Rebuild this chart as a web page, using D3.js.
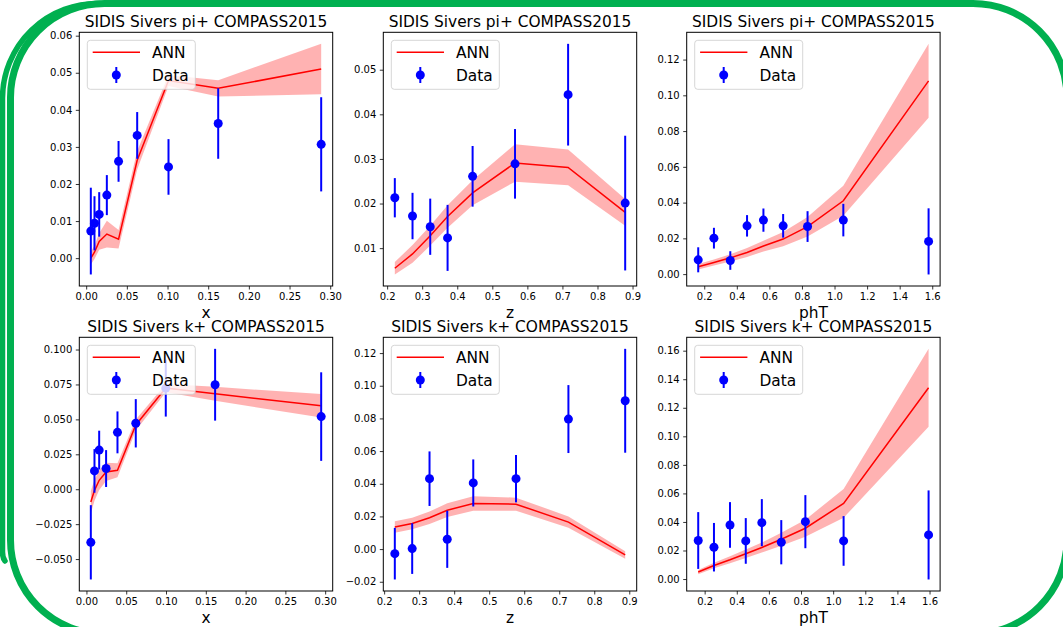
<!DOCTYPE html>
<html>
<head>
<meta charset="utf-8">
<script src="https://cdn.jsdelivr.net/npm/d3@7"></script>
<style>
  body { margin: 0; background: #fff; }
  svg { display: block; font-family: "DejaVu Sans", sans-serif; }
</style>
</head>
<body>
<svg id="chart" width="1063" height="627"></svg>
<script>
// pi+ vs x
var piX     = [0.0057, 0.0102, 0.0160, 0.0254, 0.0398, 0.0627, 0.1012, 0.1623, 0.2889];
var piXVal  = [0.0073, 0.0094, 0.0118, 0.0170, 0.0261, 0.0331, 0.0246, 0.0363, 0.0307];
var piXErr  = [0.0117, 0.0073, 0.0060, 0.0054, 0.0055, 0.0063, 0.0075, 0.0095, 0.0127];
var piXAnn  = [0.0000, 0.0016, 0.0045, 0.0065, 0.0051, 0.0264, 0.0479, 0.0458, 0.0510];
var piXBand = [0.0017, 0.0018, 0.0022, 0.0036, 0.0025, 0.0025, 0.0015, 0.0022, 0.0068];

// pi+ vs z
var piZ     = [0.2219, 0.2724, 0.3229, 0.3724, 0.4438, 0.5648, 0.7162, 0.8790];
var piZVal  = [0.0213, 0.0172, 0.0148, 0.0123, 0.0261, 0.0289, 0.0444, 0.0201];
var piZErr  = [0.0044, 0.0052, 0.0063, 0.0074, 0.0068, 0.0078, 0.0114, 0.0151];
var piZAnn  = [0.0055, 0.0087, 0.0128, 0.0171, 0.0224, 0.0291, 0.0281, 0.0180];
var piZBand = [0.0014, 0.0020, 0.0022, 0.0025, 0.0028, 0.0042, 0.0040, 0.0030];

// pi+ vs phT
var piP     = [0.163, 0.2595, 0.360, 0.4628, 0.5634, 0.6845, 0.8344, 1.054, 1.5775];
var piPVal  = [0.0080, 0.0201, 0.0076, 0.0270, 0.0302, 0.0270, 0.0266, 0.0302, 0.0183];
var piPErr  = [0.0070, 0.0058, 0.0052, 0.0060, 0.0065, 0.0066, 0.0086, 0.0091, 0.0185];
var piPAnn  = [0.0041, 0.0065, 0.0091, 0.0121, 0.0157, 0.0196, 0.0265, 0.0410, 0.1081];
var piPBand = [0.0015, 0.0017, 0.0020, 0.0025, 0.0030, 0.0040, 0.0055, 0.0084, 0.0207];

// k+ vs x
var kX     = [0.0055, 0.0101, 0.0160, 0.0247, 0.0390, 0.0620, 0.0997, 0.1617, 0.2950];
var kXVal  = [-0.0380, 0.0131, 0.0280, 0.0148, 0.0407, 0.0472, 0.0724, 0.0748, 0.0520];
var kXErr  = [0.0266, 0.0156, 0.0139, 0.0132, 0.0150, 0.0173, 0.0204, 0.0257, 0.0317];
var kXAnn  = [-0.0092, -0.0008, 0.0064, 0.0124, 0.0136, 0.0460, 0.0724, 0.0683, 0.0597];
var kXBand = [0.0080, 0.0075, 0.0070, 0.0065, 0.0050, 0.0040, 0.0030, 0.0050, 0.0084];

// k+ vs z
var kZ     = [0.2305, 0.2801, 0.3296, 0.3802, 0.4545, 0.5766, 0.7262, 0.8883];
var kZVal  = [-0.0028, 0.0003, 0.0431, 0.0060, 0.0405, 0.0431, 0.0796, 0.0908];
var kZErr  = [0.0158, 0.0155, 0.0167, 0.0175, 0.0144, 0.0145, 0.0208, 0.0318];
var kZAnn  = [0.0135, 0.0157, 0.0192, 0.0238, 0.0279, 0.0275, 0.0165, -0.0036];
var kZBand = [0.0035, 0.0035, 0.0038, 0.0042, 0.0045, 0.0040, 0.0035, 0.0023];

// k+ vs phT
var kP     = [0.160, 0.258, 0.358, 0.456, 0.556, 0.677, 0.827, 1.065, 1.594];
var kPVal  = [0.0270, 0.0223, 0.0379, 0.0267, 0.0395, 0.0258, 0.0402, 0.0267, 0.0309];
var kPErr  = [0.0199, 0.0170, 0.0160, 0.0160, 0.0165, 0.0155, 0.0186, 0.0174, 0.0312];
var kPAnn  = [0.0049, 0.0095, 0.0135, 0.0177, 0.0221, 0.0279, 0.0356, 0.0530, 0.1340];
var kPBand = [0.0015, 0.0020, 0.0025, 0.0030, 0.0035, 0.0045, 0.0060, 0.0101, 0.0273];

// tick labels
var xTicksX = [0, 0.05, 0.10, 0.15, 0.20, 0.25, 0.30];
var xTicksZ = [0.2, 0.3, 0.4, 0.5, 0.6, 0.7, 0.8, 0.9];
var xTicksP = [0.2, 0.4, 0.6, 0.8, 1.0, 1.2, 1.4, 1.6];
var yTicksPiX = [0, 0.01, 0.02, 0.03, 0.04, 0.05, 0.06];
var yTicksPiZ = [0.01, 0.02, 0.03, 0.04, 0.05];
var yTicksPiP = [0, 0.02, 0.04, 0.06, 0.08, 0.10, 0.12];
var yTicksKX  = [-0.05, -0.025, 0, 0.025, 0.05, 0.075, 0.10];
var yTicksKZ  = [-0.02, 0, 0.02, 0.04, 0.06, 0.08, 0.10, 0.12];
var yTicksKP  = [0, 0.02, 0.04, 0.06, 0.08, 0.10, 0.12, 0.14, 0.16];

var titles = ["SIDIS Sivers pi+ COMPASS2015", "SIDIS Sivers k+ COMPASS2015"];

var panels = [
    { t: titles[0], lab: "x",   x: piX, y: piXVal, e: piXErr, a: piXAnn, b: piXBand, xt: xTicksX, xf: ".2f", yt: yTicksPiX, yf: ".2f" },
    { t: titles[0], lab: "z",   x: piZ, y: piZVal, e: piZErr, a: piZAnn, b: piZBand, xt: xTicksZ, xf: ".1f", yt: yTicksPiZ, yf: ".2f" },
    { t: titles[0], lab: "phT", x: piP, y: piPVal, e: piPErr, a: piPAnn, b: piPBand, xt: xTicksP, xf: ".1f", yt: yTicksPiP, yf: ".2f" },
    { t: titles[1], lab: "x",   x: kX,  y: kXVal,  e: kXErr,  a: kXAnn,  b: kXBand,  xt: xTicksX, xf: ".2f", yt: yTicksKX,  yf: ".3f" },
    { t: titles[1], lab: "z",   x: kZ,  y: kZVal,  e: kZErr,  a: kZAnn,  b: kZBand,  xt: xTicksZ, xf: ".1f", yt: yTicksKZ,  yf: ".2f" },
    { t: titles[1], lab: "phT", x: kP,  y: kPVal,  e: kPErr,  a: kPAnn,  b: kPBand,  xt: xTicksP, xf: ".1f", yt: yTicksKP,  yf: ".2f" }
];

var svg = d3.select("#chart");

// subplot grid
var colLeft = [79.3, 383.3, 686.7];
var rowTop = [32.3, 337.3];
var axW = 253.4, axH = 253.7;

// matplotlib style 5% margins
function pad(ext) {
    var r = ext[1] - ext[0];
    return [ext[0] - 0.05 * r, ext[1] + 0.05 * r];
}

panels.forEach(function(p, i) {
    var g = svg.append("g")
        .attr("transform", "translate(" + colLeft[i % 3] + "," + rowTop[Math.floor(i / 3)] + ")");

    var rows = p.x.map(function(v, j) {
        return { x: v, y: p.y[j], e: p.e[j], a: p.a[j], b: p.b[j] };
    });

    var lo = d3.min(rows, function(d) { return Math.min(d.y - d.e, d.a - d.b); });
    var hi = d3.max(rows, function(d) { return Math.max(d.y + d.e, d.a + d.b); });

    var x = d3.scaleLinear().domain(pad(d3.extent(p.x))).range([0, axW]);
    var y = d3.scaleLinear().domain(pad([lo, hi])).range([axH, 0]);

    // uncertainty band
    g.append("path")
        .datum(rows)
        .attr("d", d3.area()
            .x(function(d) { return x(d.x); })
            .y0(function(d) { return y(d.a - d.b); })
            .y1(function(d) { return y(d.a + d.b); }))
        .attr("fill", "#ff0000")
        .attr("fill-opacity", 0.3);

    // ANN curve
    g.append("path")
        .datum(rows)
        .attr("d", d3.line()
            .x(function(d) { return x(d.x); })
            .y(function(d) { return y(d.a); }))
        .attr("fill", "none")
        .attr("stroke", "#ff0000")
        .attr("stroke-width", 1.5);

    // data with error bars
    g.selectAll(".eb")
        .data(rows)
        .enter().append("line")
        .attr("x1", function(d) { return x(d.x); })
        .attr("x2", function(d) { return x(d.x); })
        .attr("y1", function(d) { return y(d.y - d.e); })
        .attr("y2", function(d) { return y(d.y + d.e); })
        .attr("stroke", "#0000ff")
        .attr("stroke-width", 2);

    g.selectAll(".pt")
        .data(rows)
        .enter().append("circle")
        .attr("cx", function(d) { return x(d.x); })
        .attr("cy", function(d) { return y(d.y); })
        .attr("r", 4.5)
        .attr("fill", "#0000ff");

    // axes
    var xa = g.append("g")
        .attr("transform", "translate(0," + axH + ")")
        .call(d3.axisBottom(x).tickValues(p.xt).tickFormat(d3.format(p.xf))
            .tickSize(3.5).tickPadding(3.5));
    var ya = g.append("g")
        .call(d3.axisLeft(y).tickValues(p.yt).tickFormat(d3.format(p.yf))
            .tickSize(3.5).tickPadding(3.5));
    [xa, ya].forEach(function(a) {
        a.select(".domain").remove();
        a.selectAll("text").attr("font-size", "10px").attr("fill", "#000")
            .attr("font-family", "DejaVu Sans, sans-serif");
        a.selectAll("line").attr("stroke", "#000").attr("stroke-width", 0.8);
    });

    g.append("rect")
        .attr("width", axW)
        .attr("height", axH)
        .attr("fill", "none")
        .attr("stroke", "#000")
        .attr("stroke-width", 1);

    // legend
    var lg = g.append("g").attr("transform", "translate(8,8)");
    lg.append("rect")
        .attr("width", 108)
        .attr("height", 49)
        .attr("rx", 3)
        .attr("fill", "#fff")
        .attr("fill-opacity", 0.8)
        .attr("stroke", "#ccc")
        .attr("stroke-opacity", 0.8);
    lg.append("line")
        .attr("x1", 5.4).attr("x2", 52.7)
        .attr("y1", 12).attr("y2", 12)
        .attr("stroke", "#ff0000")
        .attr("stroke-width", 1.5);
    lg.append("line")
        .attr("x1", 29).attr("x2", 29)
        .attr("y1", 26.7).attr("y2", 42.7)
        .attr("stroke", "#0000ff")
        .attr("stroke-width", 2);
    lg.append("circle")
        .attr("cx", 29).attr("cy", 34.7)
        .attr("r", 4.5)
        .attr("fill", "#0000ff");
    lg.append("text").attr("x", 64.7).attr("y", 17.6).attr("font-size", "15.4px").text("ANN");
    lg.append("text").attr("x", 64.7).attr("y", 40.3).attr("font-size", "15.4px").text("Data");

    // title and label
    g.append("text")
        .attr("x", axW / 2)
        .attr("y", -5.6)
        .attr("text-anchor", "middle")
        .attr("font-size", "15.4px")
        .text(p.t);
    g.append("text")
        .attr("x", axW / 2)
        .attr("y", axH + 32)
        .attr("text-anchor", "middle")
        .attr("font-size", "15.4px")
        .text(p.lab);
});

// green rounded frame around the figure
svg.append("path")
    .attr("d", "M100,3.5 A95,95 0 0 0 2.5,98 L2.5,552 Q2.5,558 5,561")
    .attr("fill", "none")
    .attr("stroke", "#00b050")
    .attr("stroke-width", 5.5)
    .attr("stroke-linecap", "round");
svg.append("rect")
    .attr("x", 10.5)
    .attr("y", 3.5)
    .attr("width", 1056.5)
    .attr("height", 630.5)
    .attr("rx", 94)
    .attr("fill", "none")
    .attr("stroke", "#00b050")
    .attr("stroke-width", 7);
</script>
</body>
</html>
